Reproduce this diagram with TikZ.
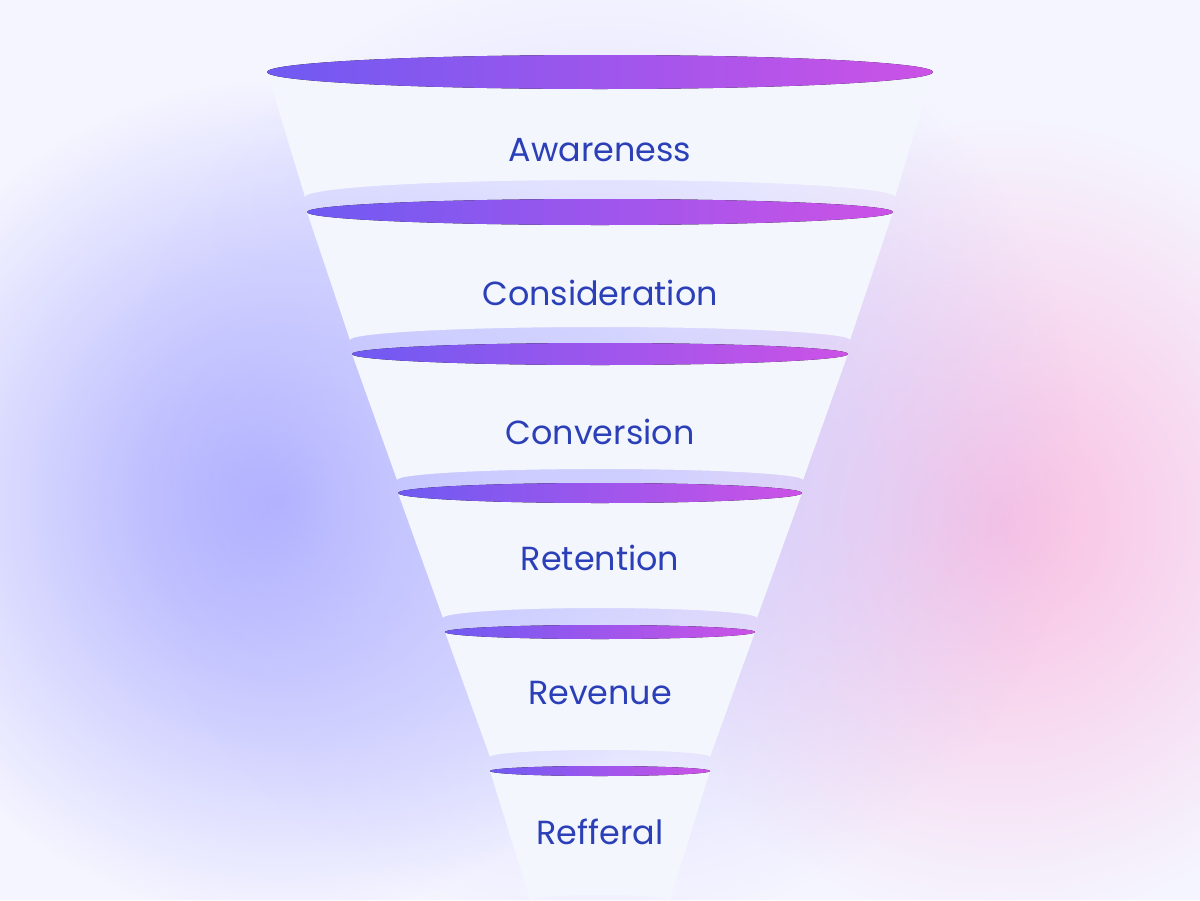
\documentclass[tikz,border=0pt]{standalone}
\usepackage{fontspec}
\setmainfont{Poppins}
\usetikzlibrary{fadings}
\definecolor{rimL}{HTML}{6F5AF2}
\definecolor{rimR}{HTML}{CC52E6}
\definecolor{bodyC}{HTML}{F3F6FD}
\definecolor{txtC}{HTML}{2B3FB8}
\tikzfading[name=glow_fade, inner color=transparent!0, outer color=transparent!100]
\tikzset{rim_style/.style={left color=rimL, right color=rimR},
  body_style/.style={fill=bodyC},
  glow_style/.style={path fading=glow_fade, fit fading=true},
  lbl_style/.style={text=txtC, font=\fontsize{19}{23}\selectfont}}

\begin{document}
\begin{tikzpicture}[x=0.02cm,y=-0.02cm]
    \useasboundingbox (0,0) rectangle (1200,900);
    \fill[white!96!blue] (0,0) rectangle (1200,900);
    \fill[blue!35, glow_style] (280,500) circle (420);
    \fill[magenta!25, glow_style] (1000,520) circle (400);
    \fill[blue!20, glow_style] (600,450) circle (480);

    % y top, half width top, rim ry, y bottom, half width bottom, text y, label
    \foreach \yt/\wt/\ry/\yb/\wb/\ty/\name/\txt in {
        72/333/17/197/295/150/awa/Awareness,
        212/293/13/340/250/293/con/Consideration,
        354/248/11/480/203/432/cnv/Conversion,
        493/202/10/618/157/558/ret/Retention,
        632/155/7/757/110/693/rev/Revenue,
        771/110/5/900/70/832/ref/Refferal}{
        \fill[body_style] (600-\wt,\yt) -- (600-\wb,\yb)
            arc[start angle=180, end angle=360, x radius=\wb, y radius=\ry]
            -- (600+\wt,\yt) -- cycle;
        \fill[rim_style] (600,\yt) ellipse ({\wt} and {\ry});
        \node[lbl_style] (\name) at (600,\ty) {\txt};
    }
\end{tikzpicture}
\end{document}
